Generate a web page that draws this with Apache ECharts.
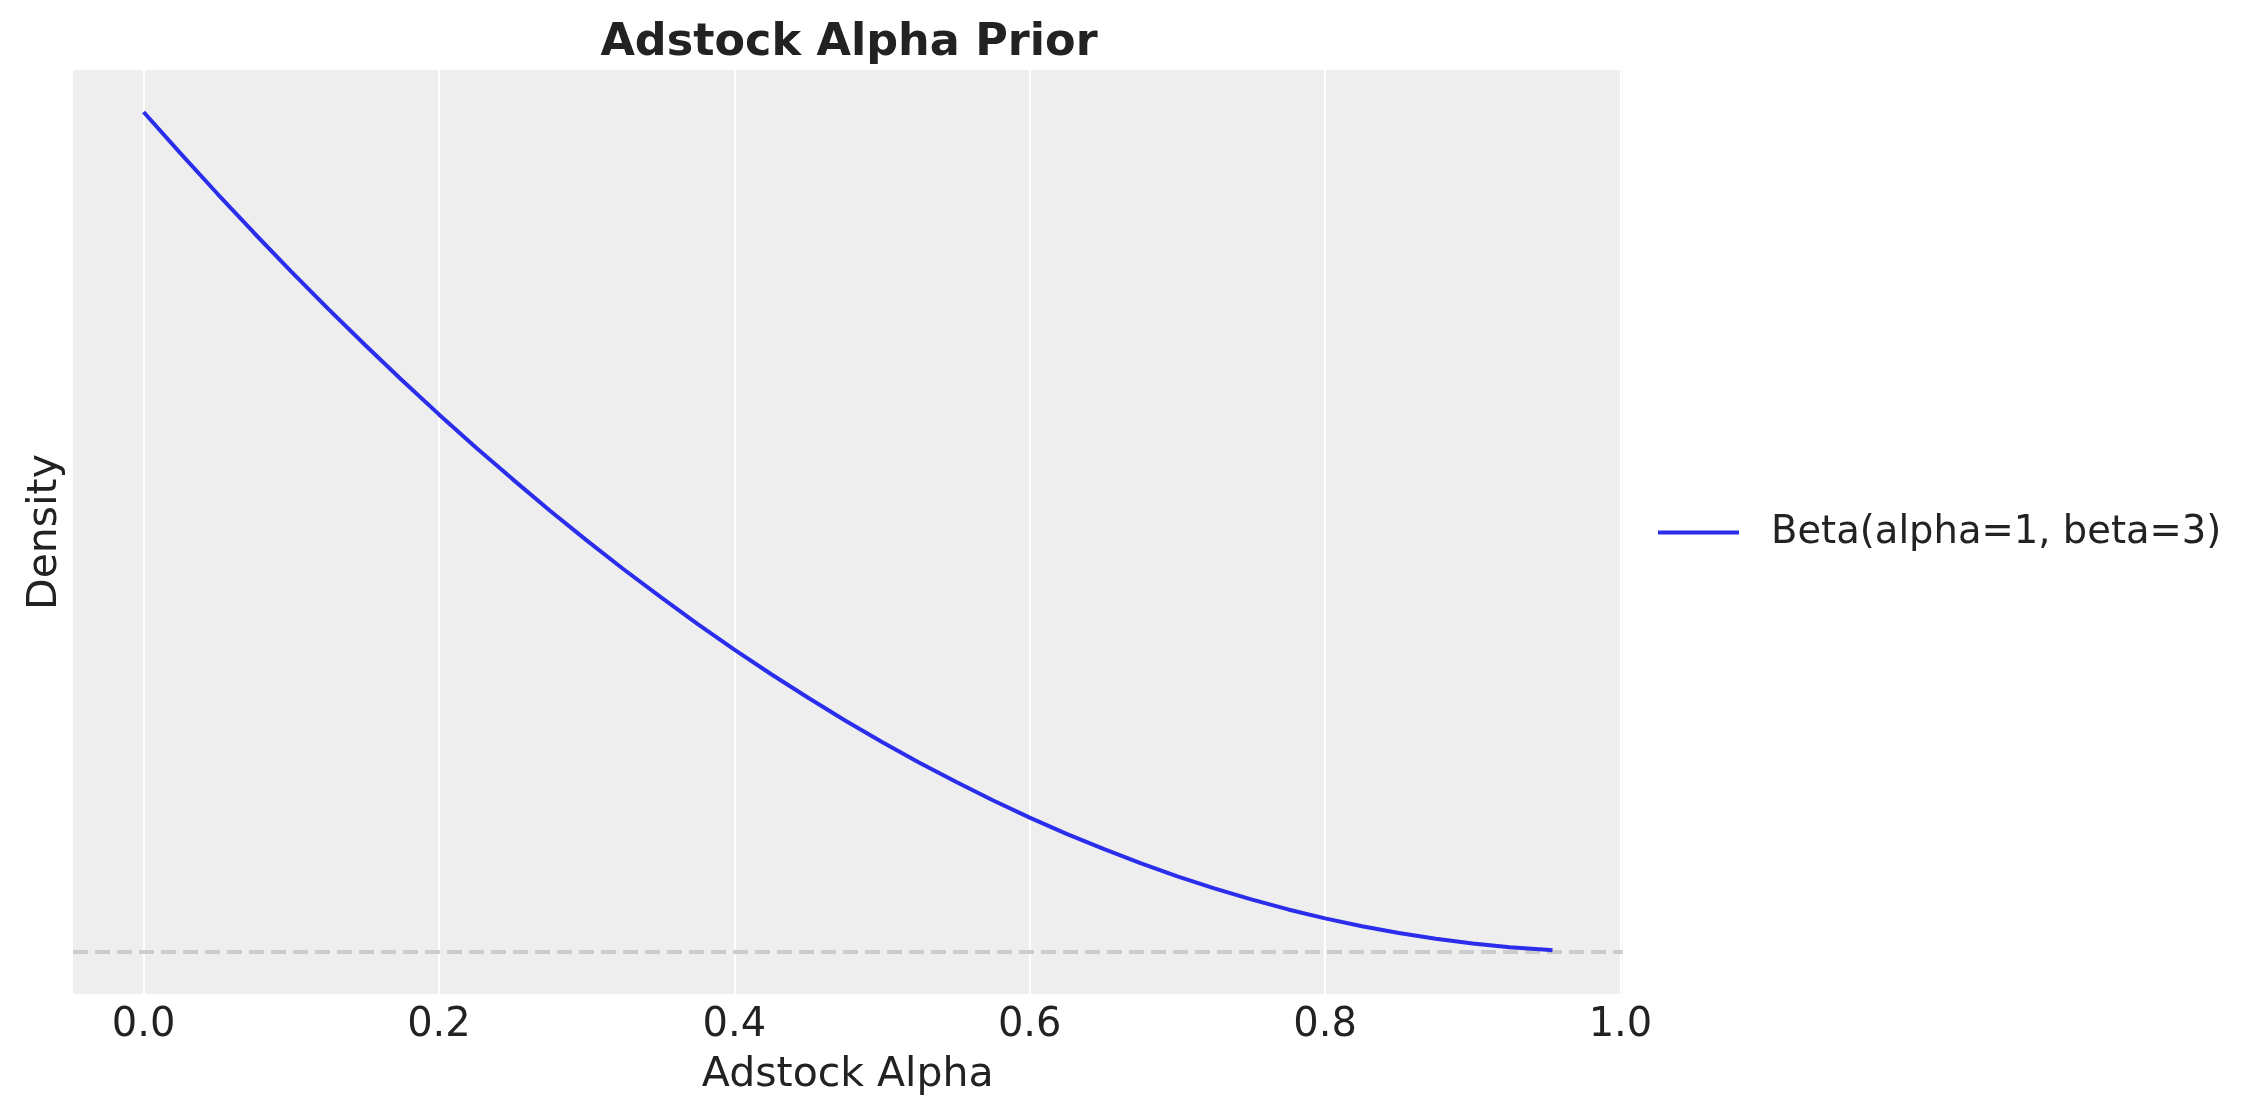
<!DOCTYPE html>
<html>
<head>
<meta charset="utf-8">
<script src="https://cdn.jsdelivr.net/npm/echarts@6/dist/echarts.min.js"></script>
<style>
html,body{margin:0;padding:0;background:#ffffff;}
#chart{width:2257px;height:1115px;}
</style>
</head>
<body>
<div id="chart"></div>
<script>
// Data
const xValues = [0, 0.025, 0.05, 0.075, 0.1, 0.125, 0.15, 0.175, 0.2, 0.225, 0.25, 0.275, 0.3, 0.325, 0.35, 0.375, 0.4, 0.425, 0.45, 0.475, 0.5, 0.525, 0.55, 0.575, 0.6, 0.625, 0.65, 0.675, 0.7, 0.725, 0.75, 0.775, 0.8, 0.825, 0.85, 0.875, 0.9, 0.925, 0.95, 0.954];
const densityValues = [3.000, 2.852, 2.708, 2.567, 2.430, 2.297, 2.168, 2.042, 1.920, 1.802, 1.688, 1.577, 1.470, 1.367, 1.268, 1.172, 1.080, 0.992, 0.908, 0.827, 0.750, 0.677, 0.608, 0.542, 0.480, 0.422, 0.368, 0.317, 0.270, 0.227, 0.188, 0.152, 0.120, 0.092, 0.068, 0.047, 0.030, 0.017, 0.008, 0.006];
const xTicks = [0, 0.2, 0.4, 0.6, 0.8, 1.0];
const seriesName = 'Beta(alpha=1, beta=3)';
const referenceY = 0;

const FONT = 'DejaVu Sans';
const chart = echarts.init(document.getElementById('chart'));
const points = xValues.map((x, i) => [x, densityValues[i]]);

chart.setOption({
  animation: false,
  backgroundColor: '#ffffff',
  title: {
    text: 'Adstock Alpha Prior',
    left: 844,
    textAlign: 'center',
    top: 16,
    textStyle: { fontFamily: FONT, fontSize: 44.5, fontWeight: 'bold', color: '#222222' }
  },
  legend: {
    data: [{ name: seriesName, icon: 'rect' }],
    left: 1653,
    top: 508,
    itemWidth: 81,
    itemHeight: 4,
    textStyle: { fontFamily: FONT, fontSize: 38.5, color: '#222222', padding: [0, 0, 0, 27] }
  },
  grid: {
    left: 73,
    right: 634.5,
    top: 70,
    bottom: 121,
    show: true,
    backgroundColor: '#eeeeee',
    borderWidth: 0
  },
  xAxis: {
    type: 'value',
    min: -0.0478,
    max: 1.0014,
    name: 'Adstock Alpha',
    nameLocation: 'middle',
    nameGap: 61,
    nameTextStyle: { fontFamily: FONT, fontSize: 41, color: '#222222' },
    axisLine: { show: false },
    axisTick: { show: false, customValues: xTicks },
    axisLabel: {
      customValues: xTicks,
      formatter: v => v.toFixed(1),
      fontFamily: FONT, fontSize: 40, color: '#222222', margin: 12
    },
    splitLine: { show: true, lineStyle: { color: '#ffffff', width: 2 } }
  },
  yAxis: {
    type: 'value',
    min: -0.15,
    max: 3.15,
    name: 'Density',
    nameLocation: 'middle',
    nameGap: 7,
    nameTextStyle: { fontFamily: FONT, fontSize: 41, color: '#222222' },
    axisLine: { show: false },
    axisTick: { show: false },
    axisLabel: { show: false },
    splitLine: { show: false }
  },
  series: [{
    name: seriesName,
    type: 'line',
    data: points,
    showSymbol: false,
    symbol: 'none',
    lineStyle: { color: '#2a2eec', width: 4 },
    itemStyle: { color: '#2a2eec' },
    z: 3,
    markLine: {
      silent: true,
      symbol: 'none',
      label: { show: false },
      lineStyle: { color: '#cccccc', width: 4, type: [15, 7] },
      data: [{ yAxis: referenceY }],
      z: 2
    }
  }]
});
</script>
</body>
</html>
